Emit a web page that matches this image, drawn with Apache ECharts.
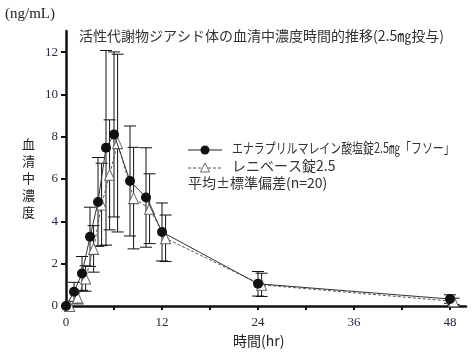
<!DOCTYPE html>
<html><head><meta charset="utf-8">
<script src="https://cdn.jsdelivr.net/npm/echarts@6/dist/echarts.min.js"></script>
<style>html,body{margin:0;padding:0;background:#fff}#c{width:476px;height:359px}</style>
</head><body><div id="c"></div>
<script>
const times  = [0, 1, 2, 3, 4, 5, 6, 8, 10, 12, 24, 48];
const timesB = [0.45, 1.45, 2.45, 3.45, 4.45, 5.45, 6.45, 8.45, 10.45, 12.45, 24.45, 48.45];
const meanA = [0, 0.67, 1.54, 3.27, 4.92, 7.48, 8.11, 5.91, 5.13, 3.50, 1.05, 0.33];
const sdA   = [0, 0.45, 0.80, 1.40, 2.10, 4.60, 3.90, 2.60, 2.35, 1.37, 0.58, 0.20];
const meanB = [0, 0.40, 1.30, 2.70, 4.80, 6.20, 7.70, 5.10, 4.60, 3.20, 1.00, 0.22];
const sdB   = [0, 0.30, 0.60, 1.10, 1.95, 2.60, 4.20, 2.40, 1.65, 1.10, 0.55, 0.15];
const xTickLabels = [0, 12, 24, 36, 48];
const xTicks = [0, 6, 12, 18, 24, 30, 36, 42, 48];
const yTicks = [0, 2, 4, 6, 8, 10, 12];
const nameA = 'エナラプリルマレイン酸塩錠2.5㎎「フソー」';
const nameB = 'レニベース錠2.5';
const noteText = '平均±標準偏差(n=20)';
const titleText = '活性代謝物ジアシド体の血清中濃度時間的推移(2.5㎎投与)';
const xName = '時間(hr)';
const yUnit = '(ng/mL)';
const yName = '血\n清\n中\n濃\n度';

const serif = '"Liberation Serif","DejaVu Serif",serif';
const jp = '"Noto Sans CJK JP","Noto Sans",sans-serif';

function errData(t, m, s) { return t.map((x, i) => [x, m[i], s[i]]); }
function errRender(capHalf) {
  return function (params, api) {
    const x = api.value(0), m = api.value(1), s = api.value(2);
    if (!s) return null;
    const top = api.coord([x, m + s]);
    const bot = api.coord([x, m - s]);
    const st = { stroke: '#111', lineWidth: 1 };
    return { type: 'group', children: [
      { type: 'line', shape: { x1: top[0], y1: top[1], x2: bot[0], y2: bot[1] }, style: st },
      { type: 'line', shape: { x1: top[0] - capHalf, y1: top[1], x2: top[0] + capHalf, y2: top[1] }, style: st },
      { type: 'line', shape: { x1: bot[0] - capHalf, y1: bot[1], x2: bot[0] + capHalf, y2: bot[1] }, style: st }
    ]};
  };
}

const chart = echarts.init(document.getElementById('c'), null, { renderer: 'canvas' });
chart.setOption({
  animation: false,
  backgroundColor: '#fff',
  grid: { left: 66, right: 10, top: 31, bottom: 53, containLabel: false },
  xAxis: {
    type: 'value', min: 0, max: 50,
    axisLine: { lineStyle: { color: '#111', width: 2.5 } },
    axisTick: { show: true, length: 4, inside: false, customValues: xTicks, lineStyle: { color: '#111', width: 2 } },
    axisLabel: { customValues: xTickLabels, fontFamily: serif, fontSize: 13, color: '#2a2a44', margin: 10 },
    splitLine: { show: false }
  },
  yAxis: {
    type: 'value', min: 0, max: 13,
    axisLine: { show: true, lineStyle: { color: '#111', width: 2.5 } },
    axisTick: { show: true, length: 5, customValues: yTicks, lineStyle: { color: '#111', width: 2 } },
    axisLabel: { customValues: yTicks, fontFamily: serif, fontSize: 13, color: '#2a2a44', margin: 8 },
    splitLine: { show: false }
  },
  graphic: [
    { type: 'text', left: 5, top: 7, style: { text: yUnit, font: '15px ' + serif, fill: '#222' } },
    { type: 'text', left: 22, top: 136, style: { text: yName, font: '13px ' + jp, fill: '#222', lineHeight: 17 } },
    { type: 'text', left: 233, top: 334, style: { text: xName, font: '14px ' + jp, fill: '#222' } },
    { type: 'text', left: 79, top: 29, style: { text: titleText, font: '14px ' + jp, fill: '#333' } },
    { type: 'line', shape: { x1: 188, y1: 150, x2: 222, y2: 150 }, style: { stroke: '#222', lineWidth: 1.2 } },
    { type: 'circle', shape: { cx: 205, cy: 150, r: 4.5 }, style: { fill: '#111' } },
    { type: 'text', x: 232, y: 141, scaleX: 0.78, style: { text: nameA, font: '14px ' + jp, fill: '#333' } },
    { type: 'line', shape: { x1: 188, y1: 168, x2: 222, y2: 168 }, style: { stroke: '#555', lineWidth: 1, lineDash: [3, 2] } },
    { type: 'polygon', shape: { points: [[205, 163], [200.5, 172], [209.5, 172]] }, style: { fill: '#fff', stroke: '#666', lineWidth: 1 } },
    { type: 'text', left: 232, top: 159, style: { text: nameB, font: '14px ' + jp, fill: '#333' } },
    { type: 'text', left: 188, top: 176, style: { text: noteText, font: '14px ' + jp, fill: '#333' } }
  ],
  series: [
    { type: 'custom', name: 'errA', renderItem: errRender(6), data: errData(times, meanA, sdA), z: 1, silent: true },
    { type: 'custom', name: 'errB', renderItem: errRender(6), data: errData(timesB, meanB, sdB), z: 1, silent: true },
    {
      type: 'line', name: nameB, data: timesB.map((t, i) => [t, meanB[i]]), z: 3,
      symbol: 'triangle', symbolSize: [10, 11], showAllSymbol: true,
      lineStyle: { color: '#555', width: 1, type: [3, 2] },
      itemStyle: { color: '#fff', borderColor: '#666', borderWidth: 1 }
    },
    {
      type: 'line', name: nameA, data: times.map((t, i) => [t, meanA[i]]), z: 4,
      symbol: 'circle', symbolSize: 10, showAllSymbol: true,
      lineStyle: { color: '#333', width: 1 },
      itemStyle: { color: '#111', borderColor: '#111', borderWidth: 0 }
    }
  ]
});
</script></body></html>
